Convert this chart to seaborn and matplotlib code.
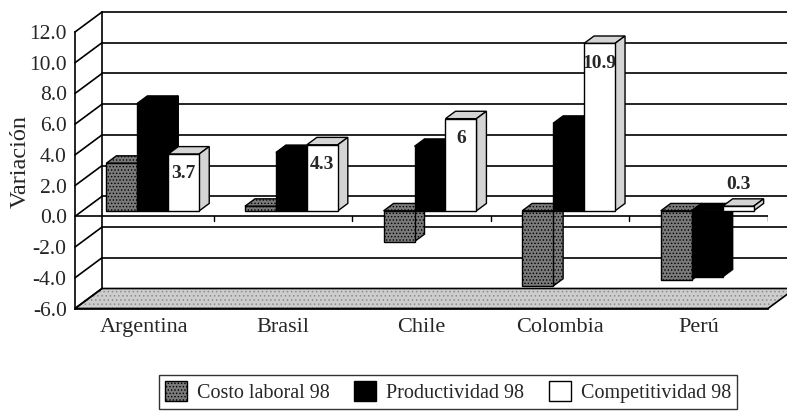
import matplotlib
matplotlib.use('Agg')
import matplotlib.pyplot as plt
from matplotlib.patches import Polygon
from matplotlib.transforms import Affine2D
import pandas as pd
import seaborn as sns

paises = ['Argentina', 'Brasil', 'Chile', 'Colombia', 'Perú']
series = ['Costo laboral 98', 'Productividad 98', 'Competitividad 98']
costo_laboral = [3.1, 0.3, -2.0, -4.9, -4.5]
productividad = [7.0, 3.8, 4.2, 5.7, -4.3]
competitividad = [3.7, 4.3, 6, 10.9, 0.3]
etiquetas = ['3.7', '4.3', '6', '10.9', '0.3']
y_ticks = [-6, -4, -2, 0, 2, 4, 6, 8, 10, 12]

df = pd.DataFrame({
    'pais': paises * 3,
    'serie': [s for s in series for _ in paises],
    'valor': costo_laboral + productividad + competitividad,
})

sns.set_style('white')
plt.rcParams['font.family'] = ['Liberation Serif', 'DejaVu Serif']
plt.rcParams['axes.unicode_minus'] = False
plt.rcParams['hatch.linewidth'] = 0.6

fig = plt.figure(figsize=(7.87, 4.11), dpi=100)
ax = fig.add_axes([75 / 787, (411 - 308.5) / 411, 693 / 787, 276.5 / 411])
ax.patch.set_visible(False)

caras = ['#7a7a7a', '#000000', '#ffffff']
lados = ['#7a7a7a', '#000000', '#d4d4d4']
tramas = ['.....', None, None]

sns.barplot(data=df, x='pais', y='valor', hue='serie', hue_order=series,
            palette=caras, saturation=1, width=0.67, edgecolor='black',
            linewidth=1, ax=ax)

ax.set_xlim(-0.5, 4.5)
ax.set_ylim(-6, 12)

# 3d look: offsets in data units
ddx, ddy = 27 / 138.6, 20 / 15.36      # back wall
fx, fy = 8.5 / 138.6, 5.5 / 15.36      # bar front face
bx, by = 10 / 138.6, 7.4 / 15.36       # bar depth
x0, x1 = -0.5, 4.5

# floor
piso = [(x0, -6), (x1, -6), (x1 + ddx, -6 + ddy), (x0 + ddx, -6 + ddy)]
ax.add_patch(Polygon(piso, closed=True, facecolor='#cdcdcd', edgecolor='#8c8c8c',
                     hatch='....', linewidth=0, clip_on=False, zorder=0.5))
ax.add_patch(Polygon(piso, closed=True, fill=False, edgecolor='black',
                     linewidth=1.2, clip_on=False, zorder=0.6))

# back wall and side wall lines
ax.plot([x0 + ddx, x0 + ddx], [-6 + ddy, 12 + ddy], color='black', lw=1.2,
        clip_on=False, zorder=0.7)
for t in y_ticks:
    if t > -6:
        ax.plot([x0 + ddx, x1 + ddx + 0.2], [t + ddy, t + ddy], color='black',
                lw=1.2, clip_on=False, zorder=0.7)
    ax.plot([x0, x0 + ddx], [t, t + ddy], color='black', lw=1.2,
            clip_on=False, zorder=0.7)

# zero line with category ticks
ax.plot([x0, x1], [0, 0], color='black', lw=1.2, zorder=1)
for b in range(1, len(paises) + 1):
    ax.plot([x0 + b, x0 + b], [0, -0.3], color='black', lw=1, zorder=1)

desplaza = Affine2D().translate(fx, fy) + ax.transData
for j, cont in enumerate(ax.containers):
    for i, bar in enumerate(cont.patches):
        k = i * 3 + j
        z = 3 + k * 0.1
        bar.set_transform(desplaza)
        bar.set_zorder(z + 0.05)
        if tramas[j]:
            bar.set_hatch(tramas[j])
        xa = bar.get_x()
        w = bar.get_width()
        v = bar.get_height()
        ytop = max(0, v)
        ylow = min(0, v)
        top = [(xa, ytop), (xa + w, ytop), (xa + w + bx, ytop + by), (xa + bx, ytop + by)]
        side = [(xa + w, ylow), (xa + w, ytop), (xa + w + bx, ytop + by), (xa + w + bx, ylow + by)]
        for pts in (top, side):
            ax.add_patch(Polygon(pts, closed=True, facecolor=lados[j], edgecolor='black',
                                 linewidth=1, hatch=tramas[j] if tramas[j] else None,
                                 transform=desplaza, zorder=z, clip_on=False))

# data labels on Competitividad
for i, bar in enumerate(ax.containers[2].patches):
    v = bar.get_height()
    xc = bar.get_x() + bar.get_width() / 2
    yl = v - 1.3 if v > 1 else v + 1.4
    ax.text(xc, yl, etiquetas[i], transform=desplaza, ha='center', va='center',
            fontsize=14, fontweight='bold', zorder=20)

# axes styling
for s in ['top', 'right']:
    ax.spines[s].set_visible(False)
for s in ['left', 'bottom']:
    ax.spines[s].set_linewidth(1.2)
    ax.spines[s].set_color('black')
ax.set_yticks(y_ticks)
ax.set_yticklabels([f'{t:.1f}' for t in y_ticks])
ax.tick_params(axis='y', length=5, width=1.2, direction='out', labelsize=15.5, pad=1)
ax.set_xticks(range(len(paises)))
ax.set_xticklabels(paises)
ax.set_xticks([x0 + b for b in range(len(paises) + 1)], minor=True)
ax.tick_params(axis='x', which='major', length=0, labelsize=16, pad=7)
ax.tick_params(axis='x', which='minor', length=5, width=1.2, direction='out')
ax.set_xlabel('')
ax.set_ylabel('Variación', fontsize=17.5)
ax.yaxis.set_label_coords(-0.064, 0.533)

sns.move_legend(ax, 'center', bbox_to_anchor=(448 / 787, 1 - 392 / 411),
                bbox_transform=fig.transFigure, ncol=3, title=None, frameon=True,
                fancybox=False, fontsize=14.5, handlelength=1.1, handleheight=1.1,
                handletextpad=0.5, columnspacing=1.2, borderpad=0.3)
leg = ax.get_legend()
leg.get_frame().set_edgecolor('black')
leg.get_frame().set_linewidth(1)
for j, h in enumerate(leg.legend_handles):
    h.set_edgecolor('black')
    h.set_linewidth(1)
    if tramas[j]:
        h.set_hatch(tramas[j])

fig.savefig('out.png', dpi=100)
